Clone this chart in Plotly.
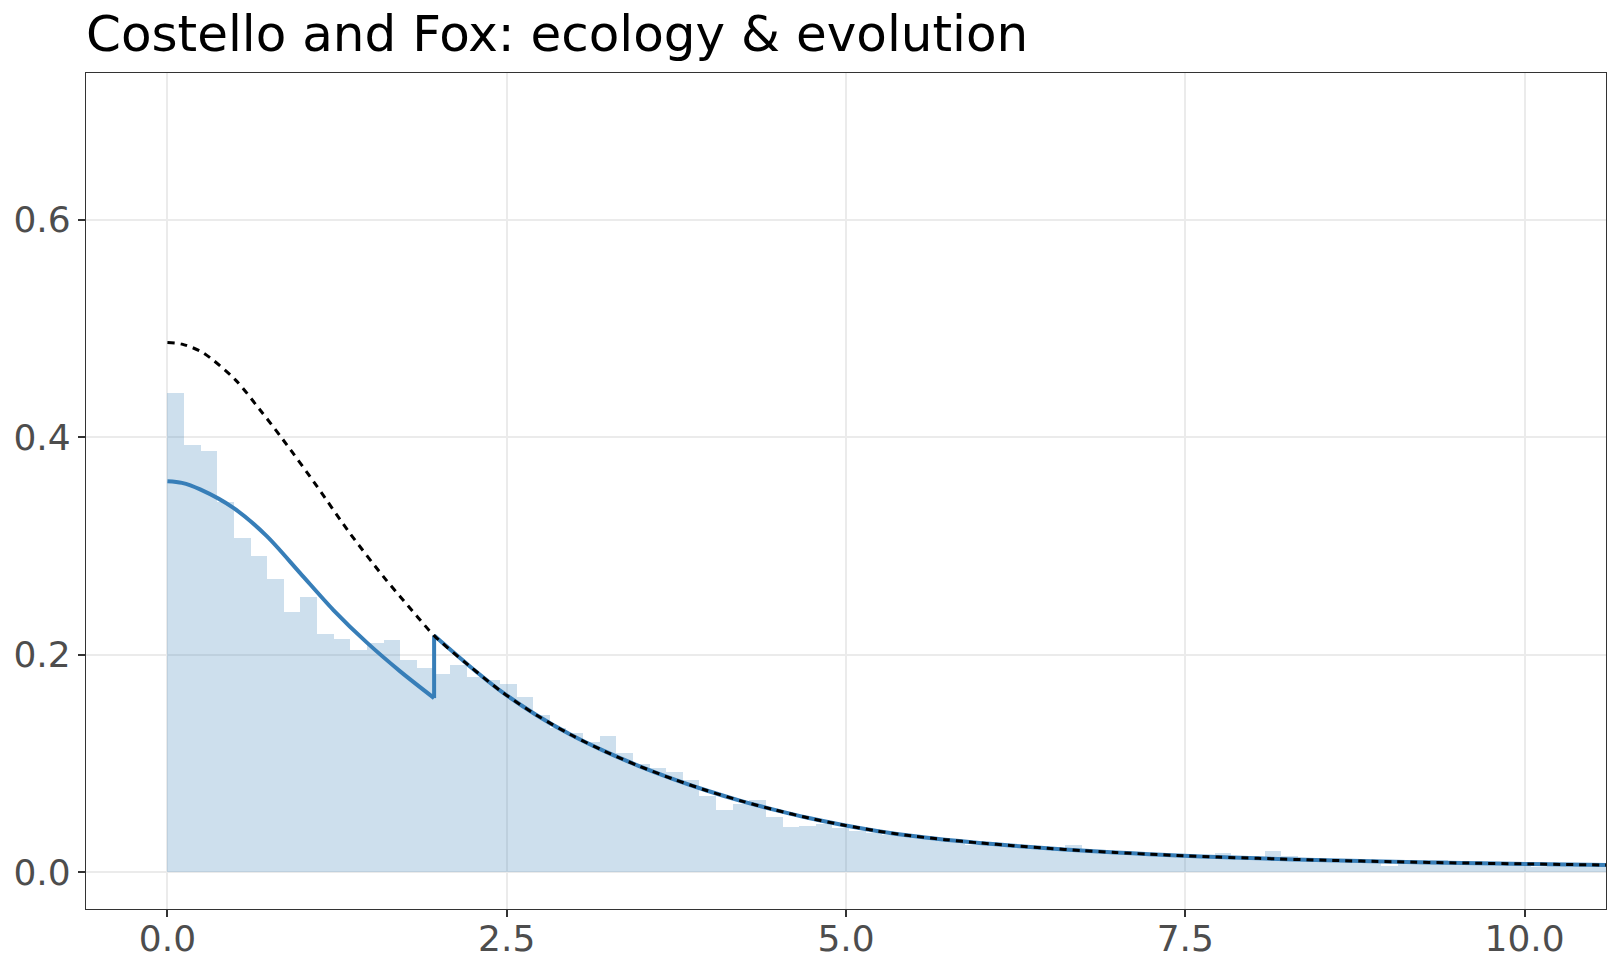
import plotly.graph_objects as go

# ---------------- data ----------------
bin_width = 0.1225
hist_density = [
    0.441, 0.393, 0.387, 0.340, 0.307, 0.291, 0.270, 0.239, 0.253, 0.219,
    0.214, 0.204, 0.211, 0.213, 0.195, 0.188, 0.182, 0.190, 0.179, 0.177,
    0.173, 0.161, 0.144, 0.1325, 0.128, 0.120, 0.1254, 0.1095, 0.099, 0.0957,
    0.092, 0.085, 0.0702, 0.0573, 0.063, 0.066, 0.0503, 0.041, 0.0426, 0.044,
    0.0405, 0.038, 0.036, 0.034, 0.033, 0.031, 0.030, 0.029, 0.025, 0.0265,
    0.0252, 0.024, 0.0228, 0.0215, 0.025, 0.0198, 0.0188, 0.0178, 0.0170, 0.0163,
    0.0156, 0.0150, 0.0144, 0.0175, 0.0134, 0.0128, 0.0196, 0.0150, 0.0115, 0.0110,
    0.0106, 0.0102, 0.0098, 0.0058, 0.0113, 0.0113, 0.0110, 0.0084, 0.0081, 0.0078,
    0.0075, 0.0072, 0.0049, 0.0068, 0.0066, 0.0064, 0.0062,
]
bin_left = [i * bin_width for i in range(len(hist_density))]

# unselected density (dashed black)
full_x = [0, 0.107, 0.258, 0.499, 0.680, 0.850, 1.101, 1.342, 1.593, 1.714, 1.834, 1.965,
          2.216, 2.467, 2.718, 2.969, 3.220, 3.471, 3.722, 3.973, 4.224, 4.475, 4.726, 4.977,
          5.228, 5.479, 5.730, 5.981, 6.232, 6.483, 6.734, 6.985, 7.236, 7.487, 7.738, 8.039,
          8.541, 9.043, 9.545, 10.047, 10.65]
full_y = [0.487, 0.4856, 0.478, 0.453, 0.4255, 0.398, 0.355, 0.312, 0.2715, 0.2535, 0.236, 0.2175,
          0.1905, 0.1655, 0.1445, 0.1265, 0.1112, 0.0977, 0.0857, 0.0750, 0.0655, 0.0572, 0.0497, 0.0433,
          0.0378, 0.0333, 0.0298, 0.0268, 0.0242, 0.0219, 0.0198, 0.0180, 0.0164, 0.0150, 0.0138, 0.0126,
          0.0108, 0.0094, 0.0083, 0.0074, 0.0064]

# selected density below the threshold (solid blue)
low_x = [0, 0.107, 0.241, 0.486, 0.732, 0.978, 1.223, 1.470, 1.715, 1.965]
low_y = [0.3595, 0.358, 0.352, 0.335, 0.309, 0.275, 0.241, 0.211, 0.1846, 0.160]
threshold = 1.965

x_ticks = [0, 2.5, 5.0, 7.5, 10.0]
x_ticktext = ["0.0", "2.5", "5.0", "7.5", "10.0"]
y_ticks = [0.0, 0.2, 0.4, 0.6]
y_ticktext = ["0.0", "0.2", "0.4", "0.6"]

title_text = "Costello and Fox: ecology &amp; evolution"

# ---------------- styles ----------------
BLUE = "#377EB8"
FONT = "DejaVu Sans"

high_x = [x for x in full_x if x >= threshold]
high_y = [y for x, y in zip(full_x, full_y) if x >= threshold]

fig = go.Figure()

fig.add_trace(go.Bar(
    x=bin_left, y=hist_density, width=[bin_width] * len(bin_left), offset=0,
    marker=dict(color="rgba(55,126,184,0.25)", line=dict(width=0)),
    hoverinfo="skip",
))

fig.add_trace(go.Scatter(
    x=low_x, y=low_y, mode="lines",
    line=dict(color=BLUE, width=4, shape="spline", smoothing=0.8),
))
fig.add_trace(go.Scatter(
    x=[low_x[-1], high_x[0]], y=[low_y[-1], high_y[0]], mode="lines",
    line=dict(color=BLUE, width=4),
))
fig.add_trace(go.Scatter(
    x=high_x, y=high_y, mode="lines",
    line=dict(color=BLUE, width=4, shape="spline", smoothing=0.8),
))
fig.add_trace(go.Scatter(
    x=full_x, y=full_y, mode="lines",
    line=dict(color="black", width=3, dash="7px,6px", shape="spline", smoothing=0.8),
))

axis_common = dict(
    showgrid=True, gridcolor="#EBEBEB", gridwidth=2,
    showline=True, mirror=True, linecolor="#333333", linewidth=1.3,
    ticks="outside", ticklen=7, tickwidth=1.5, tickcolor="#333333",
    tickfont=dict(family=FONT, size=36, color="#4D4D4D"),
    zeroline=False, automargin=False,
)

fig.update_layout(
    width=1620, height=972,
    margin=dict(l=86, r=14, t=73, b=63),
    plot_bgcolor="white", paper_bgcolor="white",
    showlegend=False, bargap=0, barmode="overlay",
    title=dict(
        text=title_text, font=dict(family=FONT, size=50, color="black"),
        x=86 / 1620, xanchor="left", xref="container",
        y=1 - 33 / 972, yanchor="middle", yref="container",
    ),
    xaxis=dict(range=[-0.6, 10.6], tickvals=x_ticks, ticktext=x_ticktext,
               ticklabelstandoff=-9, **axis_common),
    yaxis=dict(range=[-0.034, 0.735], tickvals=y_ticks, ticktext=y_ticktext,
               **axis_common),
)

fig.write_html("out.html")
